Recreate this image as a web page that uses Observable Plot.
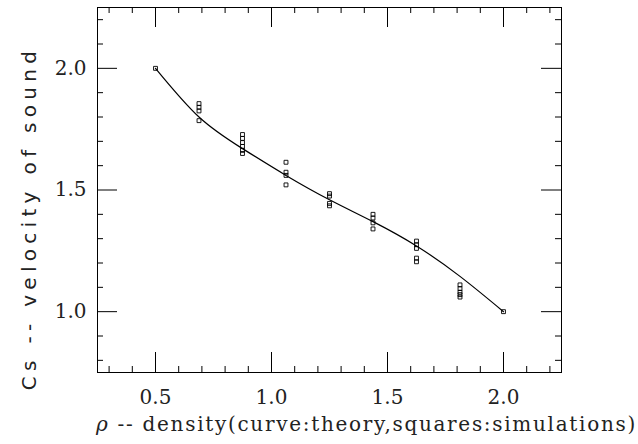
<!DOCTYPE html>
<html>
<head>
<meta charset="utf-8">
<script src="https://cdn.jsdelivr.net/npm/d3@7"></script>
<script src="https://cdn.jsdelivr.net/npm/@observablehq/plot@0.6"></script>
<style>
  html, body { margin: 0; padding: 0; background: #fff; }
</style>
</head>
<body>
<div id="chart"></div>
<script>
// ---- data ----
const simRho = [
  0.5,
  0.6875, 0.6875, 0.6875, 0.6875,
  0.875, 0.875, 0.875, 0.875, 0.875, 0.875,
  1.0625, 1.0625, 1.0625, 1.0625,
  1.25, 1.25, 1.25, 1.25,
  1.4375, 1.4375, 1.4375, 1.4375,
  1.625, 1.625, 1.625, 1.625, 1.625,
  1.8125, 1.8125, 1.8125, 1.8125, 1.8125,
  2.0
];
const simCs = [
  2.0,
  1.855, 1.84, 1.825, 1.785,
  1.728, 1.712, 1.695, 1.679, 1.663, 1.65,
  1.614, 1.573, 1.56, 1.521,
  1.485, 1.475, 1.445, 1.435,
  1.40, 1.385, 1.365, 1.34,
  1.29, 1.275, 1.26, 1.22, 1.205,
  1.11, 1.095, 1.08, 1.07, 1.06,
  1.0
];
const theoryRho = [0.5, 0.6875, 0.875, 1.0625, 1.25, 1.4375, 1.625, 1.8125, 2.0];
const theoryCs  = [2.0, 1.80, 1.67, 1.56, 1.46, 1.37, 1.27, 1.145, 1.0];

const xMajor = [0.5, 1.0, 1.5, 2.0];
const xMinor = [0.3, 0.4, 0.6, 0.7, 0.8, 0.9, 1.1, 1.2, 1.3, 1.4, 1.6, 1.7, 1.8, 1.9, 2.1, 2.2];
const yMajor = [1.0, 1.5, 2.0];
const yMinor = [0.8, 0.9, 1.1, 1.2, 1.3, 1.4, 1.6, 1.7, 1.8, 1.9, 2.1, 2.2];
const xTickLabels = ["0.5", "1.0", "1.5", "2.0"];
const yTickLabels = ["1.0", "1.5", "2.0"];
const xLabel = "ρ -- density(curve:theory,squares:simulations)";
const yLabel = "Cs -- velocity of sound";

const sims = simRho.map((r, i) => ({rho: r, cs: simCs[i]}));
const theory = theoryRho.map((r, i) => ({rho: r, cs: theoryCs[i]}));

const W = 638, H = 444;
const mL = 97, mR = 77, mT = 7, mB = 72;
const innerH = H - mT - mB;
const innerW = W - mL - mR;
const majorLen = 20, minorLen = 6;
const ink = "#222";
const serif = "DejaVu Serif, serif";
const sans = "DejaVu Sans, sans-serif";

const chart = Plot.plot({
  width: W,
  height: H,
  marginLeft: mL,
  marginRight: mR,
  marginTop: mT,
  marginBottom: mB,
  x: {domain: [0.25, 2.25], axis: null},
  y: {domain: [0.75, 2.25], axis: null},
  style: {background: "#fff", color: ink},
  marks: [
    Plot.frame({stroke: "#000", strokeWidth: 1}),
    // inward ticks, bottom & top
    Plot.tickX(xMajor, {x: d => d, insetTop: innerH - majorLen, stroke: "#000"}),
    Plot.tickX(xMajor, {x: d => d, insetBottom: innerH - majorLen, stroke: "#000"}),
    Plot.tickX(xMinor, {x: d => d, insetTop: innerH - minorLen, stroke: "#000"}),
    Plot.tickX(xMinor, {x: d => d, insetBottom: innerH - minorLen, stroke: "#000"}),
    // inward ticks, left & right
    Plot.tickY(yMajor, {y: d => d, insetRight: innerW - majorLen, stroke: "#000"}),
    Plot.tickY(yMajor, {y: d => d, insetLeft: innerW - majorLen, stroke: "#000"}),
    Plot.tickY(yMinor, {y: d => d, insetRight: innerW - minorLen, stroke: "#000"}),
    Plot.tickY(yMinor, {y: d => d, insetLeft: innerW - minorLen, stroke: "#000"}),
    // tick labels
    Plot.text(xMajor, {x: d => d, text: (d, i) => xTickLabels[i], frameAnchor: "bottom", lineAnchor: "middle",
      dy: 25, fontSize: 20, fontFamily: serif, fill: ink}),
    Plot.text(yMajor, {y: d => d, text: (d, i) => yTickLabels[i], frameAnchor: "left", lineAnchor: "middle",
      dx: -11, textAnchor: "end", fontSize: 20, fontFamily: serif, fill: ink}),
    // axis labels
    Plot.text([xLabel], {text: d => d, frameAnchor: "bottom", lineAnchor: "middle", textAnchor: "middle",
      dx: 37, dy: 52, fontSize: 20, fontFamily: serif, fill: ink, className: "xlab"}),
    Plot.text([yLabel], {text: d => d, frameAnchor: "left", lineAnchor: "middle", textAnchor: "middle",
      dx: -68, dy: 28, rotate: -90, fontSize: 20, fontFamily: sans, fill: ink, className: "ylab"}),
    // theory curve
    Plot.line(theory, {x: "rho", y: "cs", curve: "natural", stroke: "#000", strokeWidth: 1.2}),
    // simulations
    Plot.dot(sims, {x: "rho", y: "cs", symbol: "square", r: 2.2, stroke: "#000", fill: "none", strokeWidth: 0.9})
  ]
});

document.getElementById("chart").appendChild(chart);

// letter spacing on the labels, italic rho on the x label
d3.select(chart).selectAll(".ylab text").style("letter-spacing", "5.3px");
d3.select(chart).selectAll(".xlab text").style("letter-spacing", "1.7px").each(function() {
  const t = d3.select(this);
  const s = t.text();
  t.text(null);
  t.append("tspan").attr("font-style", "italic").text(s.slice(0, 1));
  t.append("tspan").text(s.slice(1));
});
</script>
</body>
</html>
